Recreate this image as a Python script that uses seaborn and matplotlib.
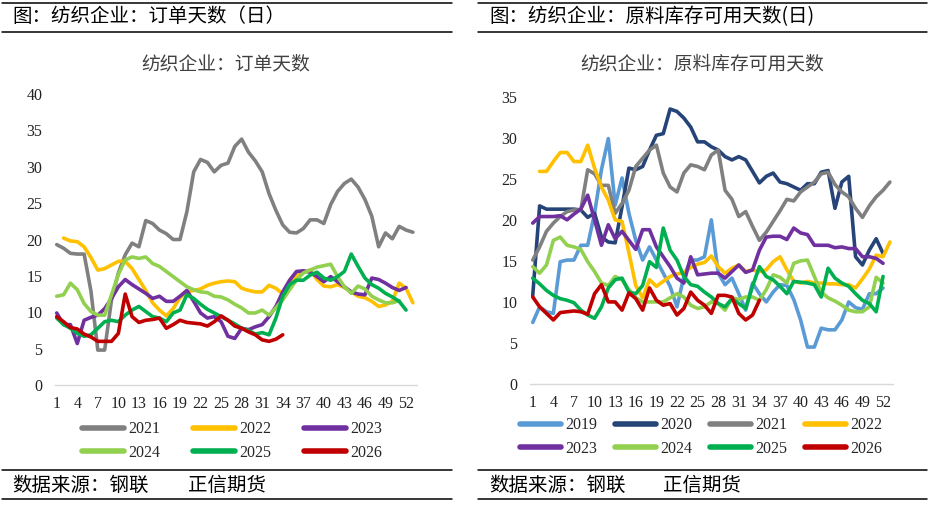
import matplotlib
matplotlib.use("Agg")
import matplotlib.pyplot as plt
from matplotlib.lines import Line2D
import seaborn as sns
import pandas as pd
import numpy as np

N = None

weeks = list(range(1, 54))
week_ticks = list(range(1, 53, 3))

# ---- left : 订单天数 ----
left_years = ["2021", "2022", "2023", "2024", "2025", "2026"]
order_2021 = [19.3, 18.8, 18.1, 18.0, 18.0, 12.9, 4.8, 4.8, 11.7, 15.4,
              17.9, 19.5, 19.0, 22.6, 22.2, 21.3, 20.8, 20.0, 20.0, 23.8,
              29.3, 31.0, 30.6, 29.3, 30.2, 30.5, 32.8, 33.8, 32.0, 30.8,
              29.3, 26.3, 24.0, 22.0, 21.0, 20.9, 21.5, 22.7, 22.7, 22.2,
              24.8, 26.6, 27.7, 28.3, 27.2, 25.5, 23.2, 19.0, 20.9, 20.1,
              21.8, 21.3, 21.0]
order_2022 = [N, 20.2, 19.8, 19.7, 19.0, 17.5, 15.8, 16.0, 16.5, 17.0,
              17.0, 16.0, 14.5, 13.0, 11.3, 10.3, 9.5, 10.5, 12.0, 12.8,
              13.0, 13.2, 13.7, 14.0, 14.2, 14.3, 14.2, 13.3, 13.0, 12.8,
              12.8, 13.7, 13.3, 12.5, 13.5, 15.0, 15.5, 15.8, 14.5, 13.6,
              13.5, 13.8, 13.4, 12.8, 12.2, 12.0, 11.5, 10.8, 11.0, 11.5,
              14.0, 13.3, 11.3]
order_2023 = [9.9, 8.3, 8.3, 5.7, 8.9, 9.3, 9.6, 10.5, 11.9, 13.5,
              14.5, 13.8, 13.2, 12.6, 11.9, 12.2, 11.5, 11.5, 12.2, 13.0,
              11.5, 9.9, 9.2, 9.4, 8.7, 6.7, 6.4, 7.8, 7.6, 8.0,
              8.3, 9.4, 10.8, 12.8, 14.4, 15.6, 15.7, 15.5, 14.9, 14.2,
              14.9, 14.2, 13.5, 12.8, 12.5, 12.4, 14.7, 14.5, 14.0, 13.4,
              13.0, 13.4, N]
order_2024 = [12.2, 12.4, 14.0, 13.1, 11.2, 10.1, 9.6, 9.6, 12.4, 15.2,
              17.2, 17.6, 17.4, 17.6, 16.7, 16.3, 15.6, 14.9, 14.2, 13.5,
              13.1, 12.8, 12.7, 12.2, 12.1, 11.7, 11.1, 10.6, 9.9, 9.9,
              10.3, 9.6, 10.6, 11.7, 13.1, 14.4, 15.4, 15.8, 16.2, 16.4,
              16.6, 14.9, 13.5, 12.6, 13.6, 13.2, 12.2, 11.7, 11.3, 11.3,
              11.6, N, N]
order_2025 = [9.2, 8.3, 7.8, 7.1, 6.7, 6.9, 7.8, 8.7, 8.9, 8.7,
              9.6, 10.3, 10.8, 10.1, 9.4, 9.2, 8.7, 9.9, 10.3, 12.4,
              11.9, 11.1, 10.4, 9.9, 9.4, 8.9, 8.4, 7.8, 7.5, 7.0,
              7.2, 6.9, 9.2, 12.2, 13.8, 14.4, 14.4, 15.1, 15.5, 14.7,
              14.4, 14.9, 15.6, 18.0, 16.3, 14.7, 13.8, 13.3, 12.6, 12.1,
              11.5, 10.3, N]
order_2026 = [9.4, 8.7, 7.9, 7.7, 7.0, 6.6, 6.0, 6.0, 6.0, 7.1,
              12.5, 9.4, 8.6, 8.9, 9.0, 9.2, 7.8, 8.3, 8.9, 8.6,
              8.5, 8.4, 8.1, 8.7, 9.5, 8.9, 8.1, 7.8, 7.3, 6.9,
              6.2, 6.0, 6.3, 6.9] + [N] * 19

# ---- right : 原料库存可用天数 ----
right_years = ["2019", "2020", "2021", "2022", "2023", "2024", "2025", "2026"]
stock_2019 = [7.5, 9.4, 8.8, 8.6, 14.9, 15.1, 15.1, 16.9, 16.9, 20.8,
              26.1, 29.9, 21.8, 25.1, 20.8, 17.5, 15.1, 16.7, 15.1, 13.5,
              11.9, 9.4, 13.1, 15.1, 15.1, 15.5, 20.0, 13.5, 12.1, 12.9,
              11.0, 9.0, 12.3, 11.0, 10.0, 11.2, 12.1, 12.0, 10.3, 7.8,
              4.5, 4.5, 6.8, 6.6, 6.6, 7.8, 10.0, 9.3, 9.1, 11.0,
              11.0, 11.7, N]
stock_2020 = [10.8, 21.7, 21.3, 21.3, 21.3, 21.3, 21.3, 21.2, 20.3, 20.8,
              17.9, 17.3, 17.2, 21.6, 26.3, 26.1, 26.5, 28.5, 30.3, 30.5,
              33.5, 33.2, 32.4, 31.3, 29.5, 29.5, 28.9, 28.5, 27.7, 27.3,
              27.7, 27.3, 25.9, 24.5, 25.3, 25.7, 24.6, 24.4, 24.0, 23.6,
              24.4, 24.4, 25.8, 26.0, 21.4, 24.6, 25.3, 15.5, 14.5, 16.3,
              17.7, 15.9, N]
stock_2021 = [15.1, 16.7, 18.6, 19.6, 20.4, 21.0, 21.2, 21.2, 26.1, 25.6,
              24.2, 24.2, 20.8, 22.0, 23.6, 26.5, 27.5, 28.5, 29.1, 25.7,
              24.0, 23.4, 25.7, 26.7, 26.5, 26.1, 27.9, 28.5, 23.6, 22.5,
              20.4, 21.0, 19.2, 17.5, 18.5, 19.8, 21.1, 22.5, 22.3, 23.4,
              24.0, 24.6, 25.6, 25.8, 24.3, 23.4, 22.8, 21.4, 20.3, 21.7,
              22.8, 23.6, 24.6]
stock_2022 = [N, 25.9, 25.9, 27.1, 28.2, 28.2, 27.1, 27.1, 29.1, 26.3,
              24.0, 22.4, 20.0, 19.8, 16.0, 12.0, 10.5, 12.7, 11.9, 12.5,
              13.1, 13.4, 13.6, 14.2, 14.6, 14.8, 15.6, 14.3, 13.5, 14.1,
              14.5, 13.7, 13.9, 13.7, 13.9, 14.9, 15.5, 13.9, 12.5, 12.3,
              12.5, 12.3, 12.3, 12.2, 12.2, 12.1, 12.1, 11.7, 12.8, 14.0,
              15.7, 15.5, 17.3]
stock_2023 = [19.6, 20.4, 20.4, 20.4, 20.5, 20.0, 20.7, 21.3, 23.0, 20.0,
              16.9, 19.4, 17.7, 18.6, 17.5, 16.4, 18.8, 18.8, 16.7, 15.5,
              14.3, 12.9, 12.3, 15.5, 13.3, 13.4, 13.5, 13.5, 12.9, 13.7,
              14.5, 13.6, 13.9, 16.3, 17.9, 18.0, 18.0, 17.6, 19.0, 18.4,
              18.2, 16.9, 16.9, 16.9, 16.6, 16.7, 16.5, 16.5, 15.5, 15.5,
              15.3, 14.7, N]
stock_2024 = [14.3, 13.5, 14.5, 17.5, 17.9, 16.9, 16.7, 16.4, 14.9, 13.7,
              12.3, 12.0, 13.1, 12.7, 11.5, 10.5, 10.0, 10.0, 10.0, 10.0,
              10.5, 11.0, 10.6, 9.6, 9.2, 9.4, 10.0, 9.8, 9.0, 10.5,
              10.3, 10.6, 10.6, 10.2, 11.5, 13.3, 13.0, 12.3, 14.7, 15.0,
              15.1, 13.1, 11.2, 10.5, 10.1, 9.6, 9.0, 8.8, 8.8, 9.4,
              13.0, 12.3, N]
stock_2025 = [12.9, 12.2, 11.4, 10.8, 10.4, 10.2, 9.9, 9.0, 8.4, 8.0,
              9.4, 11.7, 12.7, 12.9, 11.2, 11.0, 12.0, 14.9, 14.2, 19.0,
              16.3, 15.1, 13.1, 12.1, 11.9, 11.2, 10.6, 9.8, 9.4, 10.4,
              9.8, 9.2, 11.9, 14.3, 13.1, 12.7, 11.9, 11.0, 12.5, 12.4,
              12.3, 12.1, 10.6, 14.1, 12.9, 12.3, 11.9, 11.0, 10.2, 9.8,
              8.8, 13.1, N]
stock_2026 = [10.6, 9.4, 8.6, 7.8, 8.7, 8.8, 8.9, 8.8, 8.5, 11.0,
              12.1, 10.0, 10.0, 9.0, 11.1, 10.4, 9.0, 11.7, 10.2, 9.6,
              9.8, 8.4, 9.2, 11.2, 10.2, 9.6, 8.6, 10.8, 10.8, 10.6,
              8.6, 7.8, 8.4, 10.2] + [N] * 19

colors = {"2019": "#5B9BD5", "2020": "#264478", "2021": "#808080",
          "2022": "#FFC000", "2023": "#7030A0", "2024": "#92D050",
          "2025": "#00B050", "2026": "#C00000"}


def to_long(years, series):
    frames = []
    for y, vals in zip(years, series):
        frames.append(pd.DataFrame({"week": weeks, "value": vals, "year": y}))
    df = pd.concat(frames, ignore_index=True)
    return df.dropna()


df_left = to_long(left_years, [order_2021, order_2022, order_2023,
                               order_2024, order_2025, order_2026])
df_right = to_long(right_years, [stock_2019, stock_2020, stock_2021, stock_2022,
                                 stock_2023, stock_2024, stock_2025, stock_2026])

sns.set_style("white")
plt.rcParams["font.family"] = ["Liberation Serif", "Noto Sans CJK SC"]
cjk = ["Noto Sans CJK SC", "DejaVu Sans"]

W, H = 934, 507
fig = plt.figure(figsize=(W / 100, H / 100), dpi=100)


def px(x0, y_top, x1, y_bot):
    return [x0 / W, 1 - y_bot / H, (x1 - x0) / W, (y_bot - y_top) / H]


def style_axis(ax, ymax, xlim):
    ax.set_xlim(*xlim)
    ax.set_ylim(0, ymax)
    ax.set_xticks(week_ticks)
    ax.set_yticks(range(0, ymax + 1, 5))
    ax.set_xlabel("")
    ax.set_ylabel("")
    for s in ["top", "right", "left"]:
        ax.spines[s].set_visible(False)
    ax.spines["bottom"].set_color("#D9D9D9")
    ax.spines["bottom"].set_linewidth(1.0)
    ax.tick_params(axis="both", length=0, labelsize=11.5, labelcolor="#222222")
    ax.tick_params(axis="x", pad=8)
    ax.tick_params(axis="y", pad=9)
    ax.grid(False)


ax1 = fig.add_axes(px(55, 94, 417, 385))
sns.lineplot(data=df_left, x="week", y="value", hue="year", hue_order=left_years,
             palette=colors, linewidth=2.6, legend=False, ax=ax1)
style_axis(ax1, 40, (0.75, 53.6))

ax2 = fig.add_axes(px(530, 96.7, 893, 384))
sns.lineplot(data=df_right, x="week", y="value", hue="year", hue_order=right_years,
             palette=colors, linewidth=2.6, legend=False, ax=ax2)
style_axis(ax2, 35, (0.6, 53.45))


# legends, filled row by row like the original
def make_legend(ax, years, ncol, center, colspace):
    nrow = int(np.ceil(len(years) / ncol))
    order = [years[r * ncol + c] for c in range(ncol) for r in range(nrow)
             if r * ncol + c < len(years)]
    handles = [Line2D([0], [0], color=colors[y], lw=4, solid_capstyle="round")
               for y in order]
    ax.legend(handles, order, ncol=ncol, loc="center",
              bbox_to_anchor=(center[0] / W, 1 - center[1] / H),
              bbox_transform=fig.transFigure, frameon=False, fontsize=11.5,
              handlelength=2.6, handletextpad=0.25, columnspacing=colspace,
              labelspacing=0.45)


make_legend(ax1, left_years, 3, (232, 441), 2.1)
make_legend(ax2, right_years, 4, (701, 437), 1.1)

# titles inside charts
fig.text(226 / W, 1 - 64 / H, "纺织企业：订单天数", family=cjk, fontsize=13.5,
         color="#404040", ha="center", va="center", fontweight="light")
fig.text(702 / W, 1 - 64 / H, "纺织企业：原料库存可用天数", family=cjk,
         fontsize=13.5, color="#404040", ha="center", va="center",
         fontweight="light")

# header / footer rules and texts
for x0, x1 in [(2, 452), (478, 927)]:
    for yy in [3, 32, 470, 499]:
        fig.add_artist(Line2D([x0 / W, x1 / W], [1 - yy / H, 1 - yy / H],
                              transform=fig.transFigure, color="black", lw=1.1))

fig.text(12 / W, 1 - 17 / H, "图：纺织企业：订单天数（日）", family=cjk,
         fontsize=14, color="black", ha="left", va="center", fontweight="light")
fig.text(489 / W, 1 - 17 / H, "图：纺织企业：原料库存可用天数(日)", family=cjk,
         fontsize=14, color="black", ha="left", va="center", fontweight="light")

for xs, xz in [(12, 188), (489, 663)]:
    fig.text(xs / W, 1 - 485 / H, "数据来源：钢联", family=cjk, fontsize=14,
             color="black", ha="left", va="center", fontweight="light")
    fig.text(xz / W, 1 - 485 / H, "正信期货", family=cjk, fontsize=14,
             color="black", ha="left", va="center", fontweight="light")

fig.savefig("out.png", dpi=100, facecolor="white")
